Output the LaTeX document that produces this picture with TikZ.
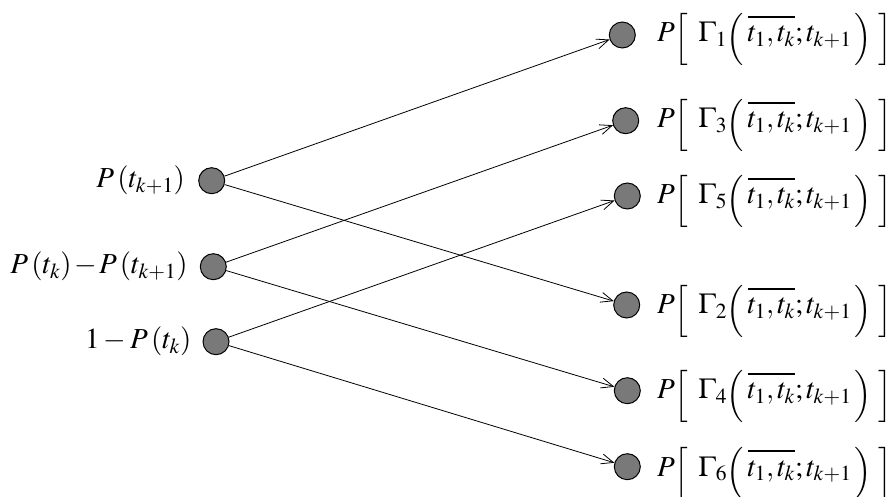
\documentclass[tikz,border=0pt]{standalone}
\usepackage{mathptmx}
\usetikzlibrary{arrows.meta}
\tikzset{
  dot/.style={circle, draw=black, line width=1pt, fill=gray!95!black, minimum size=26pt, inner sep=0pt},
  arr/.style={-{Straight Barb[length=12pt,width=10pt,line width=0.8pt]}, line width=0.8pt},
  lbl/.style={inner sep=0pt, font=\fontsize{29}{34}\selectfont},
}
% delimiters set a little below the math axis
\newcommand{\dlm}[1]{\raisebox{-5pt}{$\Big#1$}}
\newcommand{\gam}[1]{$P\mathopen{\dlm[}\;\,\Gamma_{#1}\mathopen{\dlm(}\,\overline{\rule{0pt}{21pt}t_1,t_k};t_{k+1}\,\mathclose{\dlm)}\;\mathclose{\dlm]}$}
\begin{document}
\begin{tikzpicture}[x=1pt,y=-1pt]
\useasboundingbox (0,0) rectangle (887,497);
% sources
\node[dot] (L1) at (211.7,180.7) {};
\node[dot] (L2) at (213.3,266.7) {};
\node[dot] (L3) at (216,341.7) {};
% targets
\node[dot] (R1) at (622.3,35) {};
\node[dot] (R3) at (625.7,120.7) {};
\node[dot] (R5) at (627.3,196) {};
\node[dot] (R2) at (626.7,305) {};
\node[dot] (R4) at (627.3,390.7) {};
\node[dot] (R6) at (627.3,466.7) {};
% source labels
\node[lbl, anchor=east] (tL1) at ([xshift=-13pt]L1.west) {$P\left(t_{k+1}\right)$};
\node[lbl, anchor=east] (tL2) at ([xshift=-12pt]L2.west) {$\medmuskip=1.5mu P\left(t_k\right)-P\left(t_{k+1}\right)$};
\node[lbl, anchor=east] (tL3) at ([xshift=-11pt]L3.west) {$1-P\left(t_k\right)$};
% target labels
\node[lbl, anchor=base west] (tR1) at (657,42) {\gam{1}};
\node[lbl, anchor=base west] (tR3) at (657,128) {\gam{3}};
\node[lbl, anchor=base west] (tR5) at (657,204) {\gam{5}};
\node[lbl, anchor=base west] (tR2) at (657,314) {\gam{2}};
\node[lbl, anchor=base west] (tR4) at (657,399) {\gam{4}};
\node[lbl, anchor=base west] (tR6) at (657,476) {\gam{6}};
% connectors
\draw[arr] (L1) -- (R1);
\draw[arr] (L1) -- (R2);
\draw[arr] (L2) -- (R3);
\draw[arr] (L2) -- (R4);
\draw[arr] (L3) -- (R5);
\draw[arr] (L3) -- (R6);
\end{tikzpicture}
\end{document}
